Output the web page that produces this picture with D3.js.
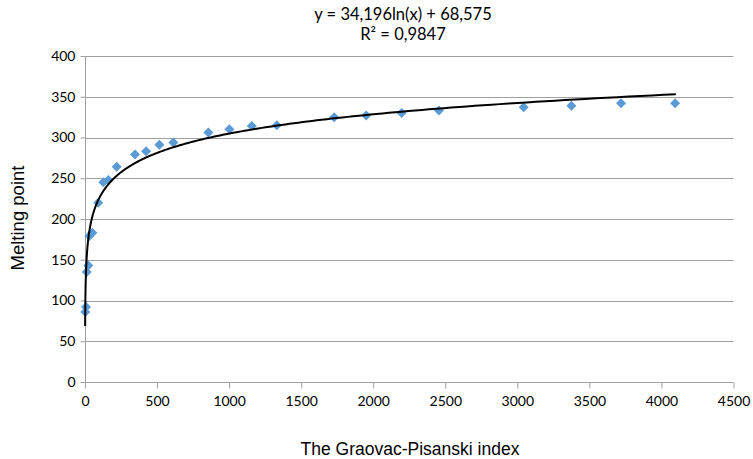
<!DOCTYPE html>
<html>
<head>
<meta charset="utf-8">
<script src="https://cdn.jsdelivr.net/npm/d3@7"></script>
<style>
  body { margin: 0; background: #fff; }
  svg { display: block; }
</style>
</head>
<body>
<svg id="chart"></svg>
<script>
// Graovac-Pisanski index vs melting point
const GP_INDEX = [2, 7, 12, 23, 30, 51, 92, 127, 162, 220, 347, 424, 516, 613,
  856, 1002, 1157, 1331, 1729, 1951, 2197, 2456, 3044, 3375, 3720, 4095];
const MELTING = [86, 92, 135, 143, 179, 183, 220, 245, 248, 264, 279, 283, 291, 294,
  306, 310, 314, 315, 325, 327, 330, 333, 337, 339, 342, 342];

const X_TICKS = [0, 500, 1000, 1500, 2000, 2500, 3000, 3500, 4000, 4500];
const Y_TICKS = [0, 50, 100, 150, 200, 250, 300, 350, 400];

// log trendline y = a ln(x) + b
const FIT_A = 34.196, FIT_B = 68.575;
const FIT_RANGE = [1, 4100];

const W = 753, H = 459;
const MARGIN = { top: 56, right: 19.5, bottom: 77, left: 85 };

const svg = d3.select("#chart").attr("width", W).attr("height", H);

const x = d3.scaleLinear().domain([0, 4500]).range([MARGIN.left, W - MARGIN.right]);
const y = d3.scaleLinear().domain([0, 400]).range([H - MARGIN.bottom, MARGIN.top]);

const GRID = "#a0a0a0";
const tickFont = "Lato, 'Open Sans', sans-serif";
const titleFont = "'Liberation Sans', Arial, sans-serif";

// horizontal gridlines
svg.append("g")
  .selectAll("line")
  .data(Y_TICKS.filter(d => d > 0))
  .join("line")
    .attr("x1", x(0)).attr("x2", x(4500))
    .attr("y1", d => Math.round(y(d)) + 0.5).attr("y2", d => Math.round(y(d)) + 0.5)
    .attr("stroke", GRID).attr("stroke-width", 1);

// y axis
const yAxis = svg.append("g")
  .attr("transform", `translate(${Math.round(x(0)) + 0.5},0)`)
  .call(d3.axisLeft(y).tickValues(Y_TICKS).tickSize(5).tickPadding(5).tickFormat(d3.format("d")));
yAxis.select(".domain").attr("stroke", GRID).attr("d", `M0,${y(0)}V${y(400)}`);
yAxis.selectAll(".tick line").attr("stroke", GRID);
yAxis.selectAll(".tick text").attr("fill", "#000").attr("font-size", "14px").attr("font-family", tickFont);

// x axis
const xAxis = svg.append("g")
  .attr("transform", `translate(0,${Math.round(y(0)) + 0.5})`)
  .call(d3.axisBottom(x).tickValues(X_TICKS).tickSize(6).tickPadding(8).tickFormat(d3.format("d")));
xAxis.select(".domain").attr("stroke", GRID).attr("d", `M${x(0)},0H${x(4500)}`);
xAxis.selectAll(".tick line").attr("stroke", GRID);
xAxis.selectAll(".tick text").attr("fill", "#000").attr("font-size", "14px").attr("font-family", tickFont);

// data points as diamonds
const pts = GP_INDEX.map((v, i) => ({ gp: v, mp: MELTING[i] }));
svg.append("g")
  .selectAll("path")
  .data(pts)
  .join("path")
    .attr("transform", d => `translate(${x(d.gp)},${y(d.mp)})`)
    .attr("d", "M0,-5L5,0L0,5L-5,0Z")
    .attr("fill", "#5b9bd5");

// trendline
const trendX = d3.range(0, 401).map(i => FIT_RANGE[0] * Math.pow(FIT_RANGE[1] / FIT_RANGE[0], i / 400));
svg.append("path")
  .datum(trendX)
  .attr("fill", "none")
  .attr("stroke", "#000")
  .attr("stroke-width", 2)
  .attr("d", d3.line().x(d => x(d)).y(d => y(FIT_A * Math.log(d) + FIT_B)));

// equation label
const eq = svg.append("text")
  .attr("text-anchor", "middle")
  .attr("font-family", tickFont)
  .attr("font-size", "16.5px")
  .attr("fill", "#000");
eq.append("tspan").attr("x", 403).attr("y", 20).text("y = 34,196ln(x) + 68,575");
eq.append("tspan").attr("x", 403).attr("y", 40).text("R² = 0,9847");

// axis titles
svg.append("text")
  .attr("x", 410).attr("y", 455)
  .attr("text-anchor", "middle")
  .attr("font-family", titleFont)
  .attr("font-size", "17.5px")
  .text("The Graovac-Pisanski index");

svg.append("text")
  .attr("transform", `translate(24,218) rotate(-90)`)
  .attr("text-anchor", "middle")
  .attr("font-family", titleFont)
  .attr("font-size", "18.5px")
  .text("Melting point");
</script>
</body>
</html>
